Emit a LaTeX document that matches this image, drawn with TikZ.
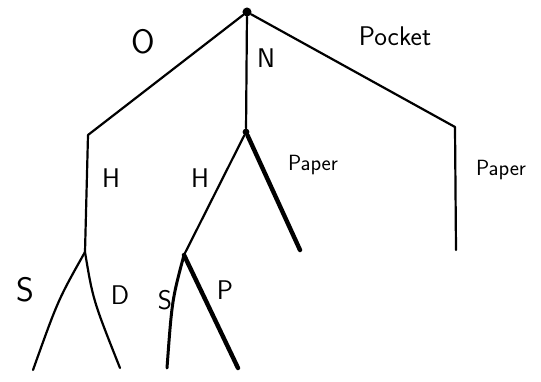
\documentclass[tikz,border=0pt]{standalone}
\usetikzlibrary{positioning}
\tikzset{
  branch/.style={line width=2.2pt, line cap=round, line join=round},
  heavy branch/.style={line width=4.4pt, line cap=round},
  knot/.style={circle, fill, inner sep=2.4pt},
  big label/.style={font=\sffamily\fontsize{34}{38}\selectfont},
  mid label/.style={font=\sffamily\fontsize{27}{30}\selectfont},
  small label/.style={font=\sffamily\fontsize{22}{26}\selectfont},
}

\begin{document}
\begin{tikzpicture}[x=1pt, y=-1pt]
  \useasboundingbox (0,0) rectangle (541,382);

  % root and its three choices
  \node[knot, inner sep=3.2pt] (root) at (247,12) {};
  \coordinate (o bend) at (88,135);
  \coordinate (o knot) at (85,252);
  \node[knot] (n knot) at (246,132) {};
  \coordinate (pocket bend) at (455,127);
  \coordinate (pocket end) at (456,250);

  \draw[branch] (root) -- (o bend) -- (o knot);
  \draw[branch] (root) -- (n knot);
  \draw[branch] (root) -- (pocket bend) -- (pocket end);

  % left subtree
  \coordinate (o s end) at (33,370);
  \coordinate (o d end) at (120,368);
  \draw[branch] (o knot) .. controls (58,300) .. (o s end);
  \draw[branch] (o knot) .. controls (93,300) .. (o d end);

  % middle subtree
  \coordinate (h knot) at (184,255);
  \coordinate (paper end) at (300,250);
  \coordinate (h s end) at (167,368);
  \coordinate (h p end) at (238,368);
  \draw[branch] (n knot) -- (h knot);
  \draw[heavy branch] (n knot) -- (paper end);
  \draw[branch, line width=3pt] (h knot) .. controls (172,300) .. (h s end);
  \draw[heavy branch] (h knot) -- (h p end);

  % labels
  \node[big label] (lbl o) at (143,42) {O};
  \node[mid label] (lbl n) at (266,58) {N};
  \node[mid label] (lbl pocket) at (395,36) {Pocket};
  \node[mid label] (lbl h left) at (111,178) {H};
  \node[mid label] (lbl h mid) at (200,178) {H};
  \node[small label] (lbl paper mid) at (313,165) {Paper};
  \node[small label] (lbl paper right) at (501,170) {Paper};
  \node[big label] (lbl s left) at (25,290) {S};
  \node[mid label] (lbl d left) at (120,295) {D};
  \node[mid label] (lbl s mid) at (165,300) {S};
  \node[mid label] (lbl p mid) at (225,290) {P};

\end{tikzpicture}
\end{document}
